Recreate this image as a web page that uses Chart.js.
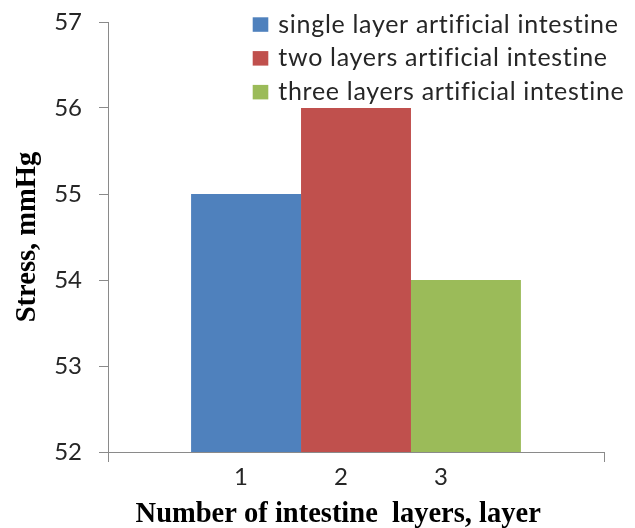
<!DOCTYPE html>
<html>
<head>
<meta charset="utf-8">
<script src="https://cdn.jsdelivr.net/npm/chart.js@4"></script>
<style>
  html, body { margin: 0; padding: 0; background: #ffffff; }
  #wrap { width: 635px; height: 528px; position: relative; }
</style>
</head>
<body>
<div id="wrap"><canvas id="chart"></canvas></div>
<script>
// Stress measured for each artificial intestine build (mmHg)
const seriesNames = [
  'single layer artificial intestine',
  'two layers artificial intestine',
  'three layers artificial intestine'
];
const stressValues = [55, 56, 54];
const seriesColors = ['#4F81BD', '#C0504D', '#9BBB59'];
const layerCounts = ['1', '2', '3'];
const yTicks = { min: 52, max: 57, step: 1 };

const tickFont = { family: 'Lato', size: 24 };
const titleFont = { family: 'Liberation Serif', size: 28.5, weight: 'bold' };
const axisGray = '#8a8a8a';
const textColor = '#262626';

// one category; the three builds sit side by side inside it
const categoryLabel = layerCounts.join(' '.repeat(14));

const datasets = seriesNames.map((name, i) => ({
  label: name,
  data: [stressValues[i]],
  backgroundColor: seriesColors[i],
  borderWidth: 0,
  categoryPercentage: 0.665,
  barPercentage: 1.0
}));

// legend drawn over the plot, top right; the text is tracked out so the
// first entry spans a fixed width
const overlayLegend = {
  id: 'overlayLegend',
  afterDraw(chart) {
    const ctx = chart.ctx;
    const names = chart.data.datasets.map(ds => ds.label);
    ctx.save();
    ctx.font = '25px Lato';
    ctx.letterSpacing = '0px';
    const natural = ctx.measureText(names[0]).width;
    const spacing = (340 - natural) / (names[0].length - 1);
    ctx.letterSpacing = spacing.toFixed(2) + 'px';
    ctx.textBaseline = 'alphabetic';
    ctx.textAlign = 'left';
    chart.data.datasets.forEach((ds, i) => {
      const top = 17.3 + i * 33.8;
      ctx.fillStyle = ds.backgroundColor;
      ctx.fillRect(252.7, top, 15.6, 14.5);
      ctx.fillStyle = textColor;
      ctx.fillText(ds.label, 278.3, 32.7 + i * 33.7);
    });
    ctx.restore();
  }
};

new Chart(document.getElementById('chart'), {
  type: 'bar',
  data: { labels: [categoryLabel], datasets },
  options: {
    responsive: true,
    maintainAspectRatio: false,
    animation: false,
    layout: { padding: { top: 22, right: 31, bottom: 0, left: 0 } },
    plugins: { legend: { display: false }, tooltip: { enabled: false } },
    scales: {
      x: {
        grid: { display: true, drawOnChartArea: false, drawTicks: true, tickLength: 10, color: axisGray, lineWidth: 1 },
        border: { display: true, color: axisGray, width: 1 },
        ticks: { font: tickFont, color: textColor, padding: 1, labelOffset: -15, maxRotation: 0 },
        title: {
          display: true,
          text: 'Number of intestine  layers, layer     ',
          font: { ...titleFont, lineHeight: 0.86 },
          color: '#000000',
          padding: { top: 0, bottom: 1 }
        },
        afterFit(scale) { scale.height = 76; }
      },
      y: {
        min: yTicks.min,
        max: yTicks.max,
        grid: { display: true, drawOnChartArea: false, drawTicks: true, tickLength: 9, color: axisGray, lineWidth: 1 },
        border: { display: true, color: axisGray, width: 1 },
        ticks: { stepSize: yTicks.step, font: tickFont, color: textColor, padding: 17 },
        title: {
          display: true,
          text: 'Stress, mmHg',
          font: titleFont,
          color: '#000000',
          padding: { top: 11, bottom: 0 }
        },
        afterFit(scale) {
          scale.width = 108;
          scale.paddingTop = 0;
          scale.paddingBottom = 0;
        }
      }
    }
  },
  plugins: [overlayLegend]
});
</script>
</body>
</html>
